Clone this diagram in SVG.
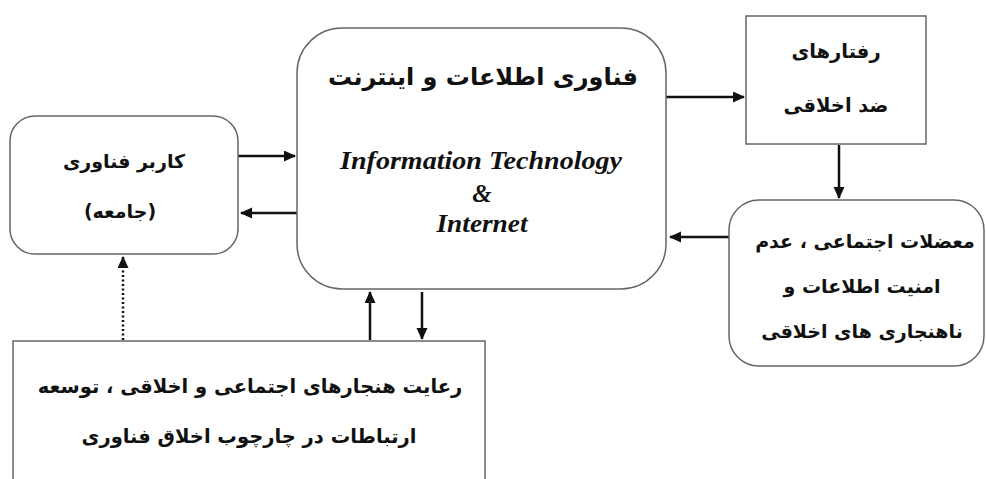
<svg xmlns="http://www.w3.org/2000/svg" width="986" height="479" viewBox="0 0 986 479">
<defs>
<marker id="ah" markerWidth="12" markerHeight="12" refX="11" refY="5.5" orient="auto" markerUnits="userSpaceOnUse">
<path d="M0,0 L12,5.5 L0,11 Z" fill="#111"/>
</marker>
<style>
.box{fill:#fff;stroke:#666;stroke-width:1.5}
.fa{font-family:"DejaVu Sans",sans-serif;font-weight:bold;fill:#111;text-anchor:middle;direction:rtl}
.en{font-family:"Liberation Serif",serif;font-weight:bold;font-style:italic;fill:#111;text-anchor:middle;font-size:25px}
.ln{stroke:#111;stroke-width:2.5;fill:none}
</style>
</defs>
<rect width="986" height="479" fill="#fff"/>
<g id="connectors">
<line class="ln" x1="666" y1="97" x2="744" y2="97" marker-end="url(#ah)"/>
<line class="ln" x1="839" y1="145" x2="839" y2="198" marker-end="url(#ah)"/>
<line class="ln" x1="729" y1="237" x2="670" y2="237" marker-end="url(#ah)"/>
<line class="ln" x1="238" y1="156" x2="295" y2="156" marker-end="url(#ah)"/>
<line class="ln" x1="297" y1="213" x2="241" y2="213" marker-end="url(#ah)"/>
<line class="ln" x1="123" y1="340" x2="123" y2="257" stroke-dasharray="2,2.5" marker-end="url(#ah)"/>
<line class="ln" x1="370" y1="340" x2="370" y2="292" marker-end="url(#ah)"/>
<line class="ln" x1="422" y1="292" x2="422" y2="339" marker-end="url(#ah)"/>
</g>
<g id="user">
<rect class="box" x="10" y="116" width="228" height="138" rx="25"/>
<text class="fa" x="124" y="168" font-size="19">کاربر فناوری</text>
<text class="fa" x="120" y="218" font-size="19">(جامعه)</text>
</g>
<g id="it">
<rect class="box" x="297" y="28" width="369" height="261" rx="45"/>
<text class="fa" x="483" y="85" font-size="24">فناوری اطلاعات و اینترنت</text>
<text class="en" x="481" y="169" textLength="282" lengthAdjust="spacingAndGlyphs">Information Technology</text>
<text class="en" x="482" y="202">&amp;</text>
<text class="en" x="482" y="232" textLength="91" lengthAdjust="spacingAndGlyphs">Internet</text>
</g>
<g id="behaviour">
<rect class="box" x="746" y="16" width="180" height="128"/>
<text class="fa" x="836" y="58" font-size="19.5">رفتارهای</text>
<text class="fa" x="836" y="112" font-size="19.5">ضد اخلاقی</text>
</g>
<g id="problems">
<rect class="box" x="729" y="200" width="255" height="166" rx="30"/>
<text class="fa" x="865" y="248" font-size="19">معضلات اجتماعی ، عدم</text>
<text class="fa" x="862" y="293" font-size="19">امنیت اطلاعات و</text>
<text class="fa" x="862" y="338" font-size="19">ناهنجاری های اخلاقی</text>
</g>
<g id="norms">
<rect class="box" x="13" y="341" width="472" height="150"/>
<text class="fa" x="250" y="393" font-size="19.5">رعایت هنجارهای اجتماعی و اخلاقی ، توسعه</text>
<text class="fa" x="249" y="443" font-size="19.5">ارتباطات در چارچوب اخلاق فناوری</text>
</g>
</svg>
